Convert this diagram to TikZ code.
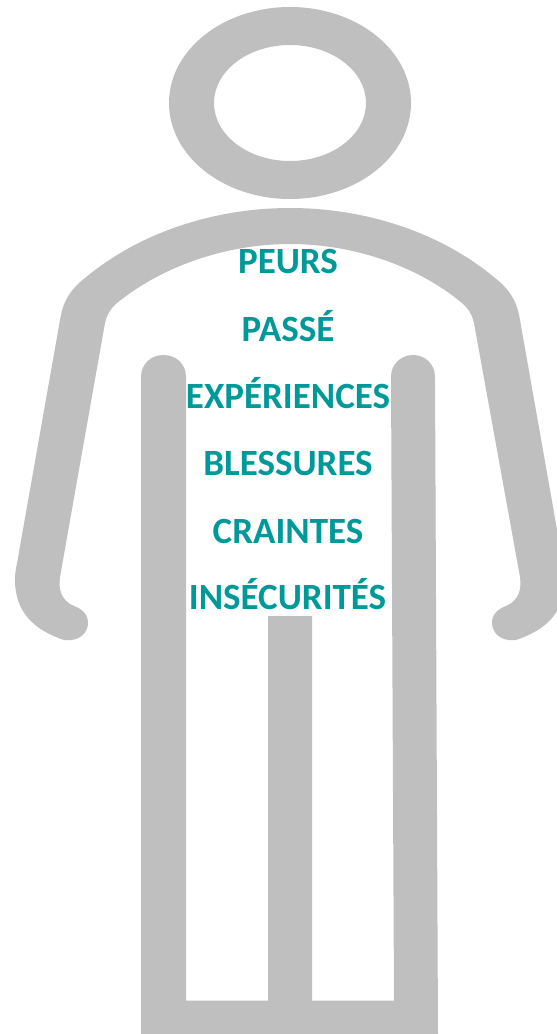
\documentclass[tikz,border=0pt]{standalone}
\usepackage{fontspec}
\setmainfont{Carlito}
\definecolor{bodygray}{HTML}{BFBFBF}
\definecolor{wordteal}{HTML}{009999}
\tikzset{
  word/.style={anchor=base,text=wordteal,font=\fontsize{37}{37}\selectfont\bfseries,inner sep=0pt},
  bodypart/.style={fill=bodygray,draw=none}
}
\begin{document}
\begin{tikzpicture}[x=1pt,y=-1pt]
  % page frame, coordinates are pixels of the picture
  \useasboundingbox (0,0) rectangle (557,1034);
  \clip (0,0) rectangle (557,1034);
  % head
  \fill[bodypart,even odd rule] (290,103) ellipse (121 and 96) (290,103) ellipse (76 and 58);
  % shoulders and arms
  \fill[bodypart] (64,640) .. controls (34,630) and (15,612) .. (15,580)
    .. controls (15,570) and (17,565) .. (19,552)
    -- (60,320) .. controls (63,300) and (72,288) .. (85,278)
    .. controls (140,232) and (215,208) .. (290,208)
    .. controls (365,208) and (440,232) .. (495,278)
    .. controls (508,288) and (517,300) .. (520,320)
    -- (561,552) .. controls (563,565) and (565,570) .. (565,580)
    .. controls (565,612) and (546,630) .. (516,640)
    .. controls (500,642) and (492,632) .. (492,623)
    .. controls (492,614) and (498,609) .. (506,606)
    .. controls (518,601) and (522,590) .. (520,577)
    -- (474,323) .. controls (472,314) and (468,308) .. (462,303)
    .. controls (415,264) and (350,244) .. (290,244)
    .. controls (230,244) and (165,264) .. (117,303)
    .. controls (111,308) and (107,314) .. (105,323)
    -- (60,577) .. controls (58,590) and (62,601) .. (74,606)
    .. controls (82,609) and (88,614) .. (88,623)
    .. controls (88,632) and (80,642) .. (64,640) -- cycle;
  % legs
  \fill[bodypart] (141,1034) -- (141,377) .. controls (141,364) and (151,355) .. (163.5,355)
    .. controls (176,355) and (186,364) .. (186,377) -- (186,1000.5) -- (268,1000.5) -- (268,616)
    -- (312,616) -- (312,1000.5) -- (394,1000.5) -- (391,377)
    .. controls (391,364) and (401,355) .. (413,355)
    .. controls (425,355) and (435,364) .. (435,377) -- (438,1034) -- cycle;
  % words
  \node[word] (peurs) at (288,273) {PEURS};
  \node[word] (passe) at (288,341) {PASSÉ};
  \node[word] (experiences) at (288,408) {EXPÉRIENCES};
  \node[word] (blessures) at (288,475) {BLESSURES};
  \node[word] (craintes) at (288,543) {CRAINTES};
  \node[word] (insecurites) at (287.5,609) {INSÉCURITÉS};
\end{tikzpicture}
\end{document}
